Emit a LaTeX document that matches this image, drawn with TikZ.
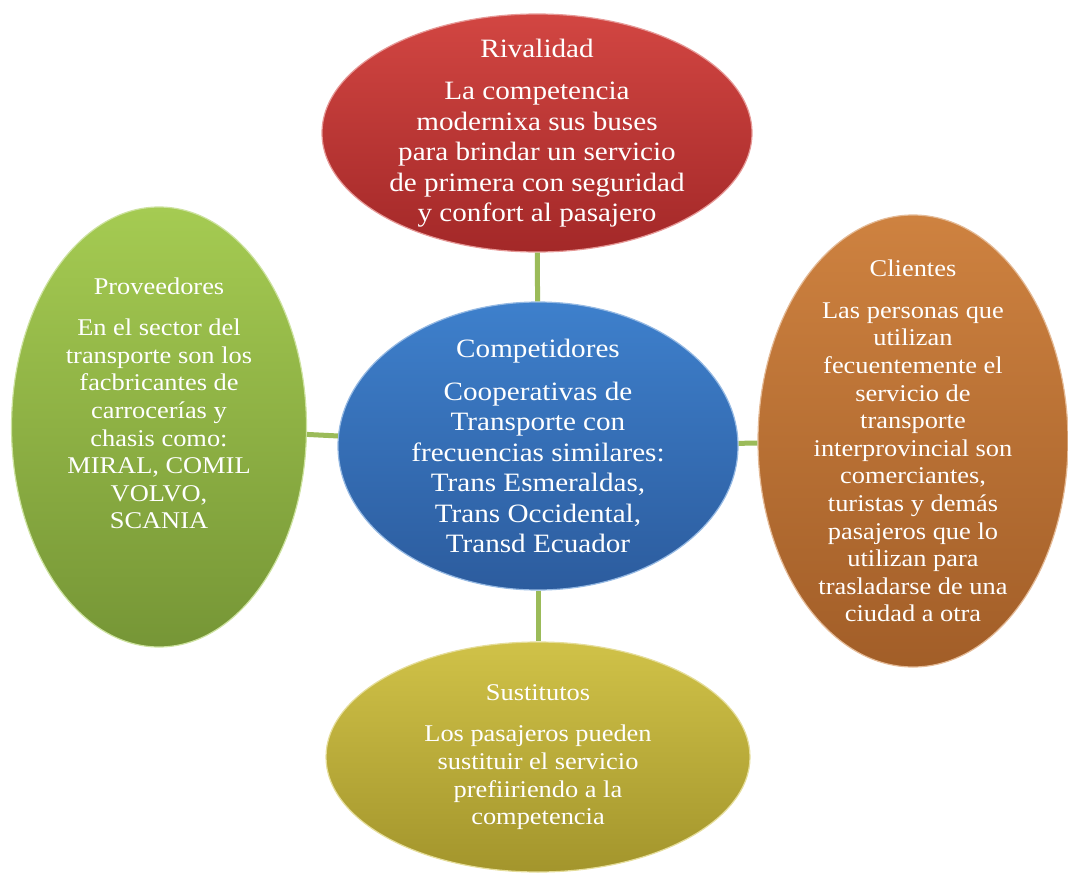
\documentclass[tikz,border=0pt]{standalone}
\usepackage{fontspec}
\setmainfont{Liberation Serif}[FakeStretch=1.1]
\usetikzlibrary{shapes.geometric}
\definecolor{rojoA}{RGB}{210,70,66}
\definecolor{rojoB}{RGB}{163,40,40}
\definecolor{azulA}{RGB}{62,128,204}
\definecolor{azulB}{RGB}{44,92,158}
\definecolor{verdeA}{RGB}{165,203,82}
\definecolor{verdeB}{RGB}{118,150,54}
\definecolor{naranjaA}{RGB}{206,130,64}
\definecolor{naranjaB}{RGB}{162,94,40}
\definecolor{amarilloA}{RGB}{208,194,72}
\definecolor{amarilloB}{RGB}{163,149,44}
\definecolor{lineaverde}{RGB}{155,187,89}
\newcommand{\letragrande}{\fontsize{26.5}{30.5}\selectfont}
\newcommand{\letrachica}{\fontsize{24}{27.6}\selectfont}
\tikzset{fuerza/.style={ellipse, inner xsep=-20pt, inner ysep=-40pt, text=white, align=center, line width=1.2pt},
  enlace/.style={draw=lineaverde, line width=5pt}}

\begin{document}
\begin{tikzpicture}[x=1pt, y=-1pt]
  \useasboundingbox (0,0) rectangle (1068,875);
  \node[fuerza, font=\letragrande, minimum width=430pt, minimum height=238pt,
        top color=rojoA, bottom color=rojoB, draw=rojoA!55!white] (rival) at (537,133)
        {Rivalidad\\[12pt] La competencia\\ modernixa sus buses\\ para brindar un servicio\\
         de primera con seguridad\\ y confort al pasajero};
  \node[fuerza, font=\letragrande, minimum width=400pt, minimum height=288pt,
        top color=azulA, bottom color=azulB, draw=azulA!55!white] (compet) at (538,446)
        {Competidores\\[12pt] Cooperativas de\\ Transporte con\\ frecuencias similares:\\
         Trans Esmeraldas,\\ Trans Occidental,\\ Transd Ecuador};
  \node[fuerza, font=\letrachica, minimum width=295pt, minimum height=440pt,
        top color=verdeA, bottom color=verdeB, draw=verdeA!55!white] (prov) at (159,427)
        {Proveedores\\[14pt] En el sector del\\ transporte son los\\ facbricantes de\\
         carrocerías y\\ chasis como:\\ MIRAL, COMIL\\ VOLVO,\\ SCANIA\\[20pt]\mbox{}};
  \node[fuerza, font=\letrachica, minimum width=310pt, minimum height=452pt,
        top color=naranjaA, bottom color=naranjaB, draw=naranjaA!55!white] (client) at (913,441)
        {Clientes\\[14pt] Las personas que\\ utilizan\\ fecuentemente el\\ servicio de\\
         transporte\\ interprovincial son\\ comerciantes,\\ turistas y demás\\
         pasajeros que lo\\ utilizan para\\ trasladarse de una\\ ciudad a otra};
  \node[fuerza, font=\letrachica, minimum width=424pt, minimum height=230pt,
        top color=amarilloA, bottom color=amarilloB, draw=amarilloA!55!white] (sustit) at (538,757)
        {Sustitutos\\[14pt] Los pasajeros pueden\\ sustituir el servicio\\
         prefiiriendo a la\\ competencia};

  \draw[enlace] (rival) -- (compet);
  \draw[enlace] (prov) -- (compet);
  \draw[enlace] (compet) -- (client);
  \draw[enlace] (compet) -- (sustit);
\end{tikzpicture}
\end{document}
